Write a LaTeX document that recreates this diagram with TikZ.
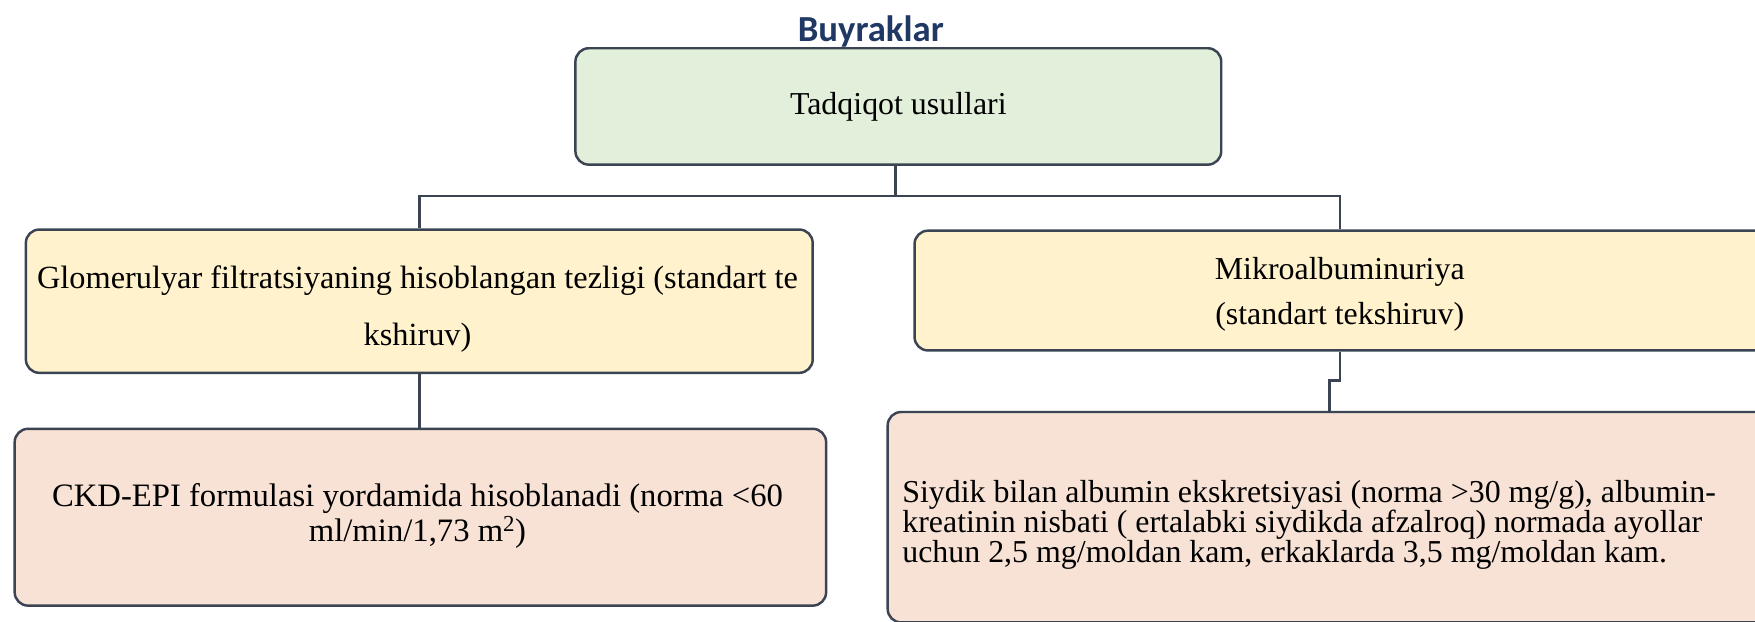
\documentclass[tikz,border=0pt]{standalone}
\usepackage{fontspec}
\setmainfont{Liberation Serif}
\newfontfamily\titlefont{Carlito}
\definecolor{edgec}{HTML}{3B4453}
\definecolor{greenf}{HTML}{E2EFDA}
\definecolor{yellowf}{HTML}{FFF2CC}
\definecolor{pinkf}{HTML}{F8E2D5}
\definecolor{titlec}{HTML}{1F3864}
\begin{document}
\begin{tikzpicture}[x=1pt,y=-1pt,
  box/.style={draw=edgec, line width=2.2pt, rounded corners=12pt, inner sep=0pt, anchor=north west},
  conn/.style={draw=edgec, line width=2.2pt},
  txt/.style={font=\fontsize{28.5}{32}\selectfont, align=center, inner sep=0pt}]
\useasboundingbox (0,0) rectangle (1568,555.7);
\node[font=\titlefont\bfseries\fontsize{32.8}{36}\selectfont, text=titlec, inner sep=0pt] (title) at (778,28) {Buyraklar};
\node[box, fill=greenf, minimum width=577pt, minimum height=104pt] (top) at (513,42) {};
\node[txt] (toptext) at (top.center) {Tadqiqot usullari};
\node[box, fill=yellowf, minimum width=703pt, minimum height=128pt] (lm) at (22,204) {};
\node[txt, font=\fontsize{28.9}{51}\selectfont] (lmtext) at (373,276) {Glomerulyar filtratsiyaning hisoblangan tezligi (standart te\\kshiruv)};
\node[box, fill=yellowf, minimum width=1000pt, minimum height=107pt] (rm) at (816,205) {};
\node[txt, font=\fontsize{28.5}{41}\selectfont] (rmtext) at (1197,263) {Mikroalbuminuriya\\(standart tekshiruv)};
\node[box, fill=pinkf, minimum width=725pt, minimum height=158pt] (ll) at (12,382) {};
\node[txt, font=\fontsize{29.2}{32}\selectfont] (lltext) at (373,461) {CKD-EPI formulasi yordamida hisoblanadi (norma <60\\ml/min/1,73 m\textsuperscript{2})};
\node[box, fill=pinkf, minimum width=1000pt, minimum height=188pt] (lr) at (792,367) {};
\node[txt, font=\fontsize{28.5}{27}\selectfont, align=left, anchor=west] (lrtext) at (806,469) {Siydik bilan albumin ekskretsiyasi (norma >30 mg/g), albumin-\\kreatinin nisbati ( ertalabki siydikda afzalroq) normada ayollar\\uchun 2,5 mg/moldan kam, erkaklarda 3,5 mg/moldan kam.};
\coordinate (hj) at (800,175);
\coordinate (jr) at (1197,340);
\draw[conn] (top.south -| hj) -- (hj);
\draw[conn] (lm.north) |- (hj) -| (rm.north west -| jr);
\draw[conn] (rm.south west -| jr) -- (jr) -- ++(-9,0) coordinate (jl) -- (lr.north west -| jl);
\draw[conn] (lm.south) -- (ll.north -| lm.south);
\end{tikzpicture}
\end{document}
